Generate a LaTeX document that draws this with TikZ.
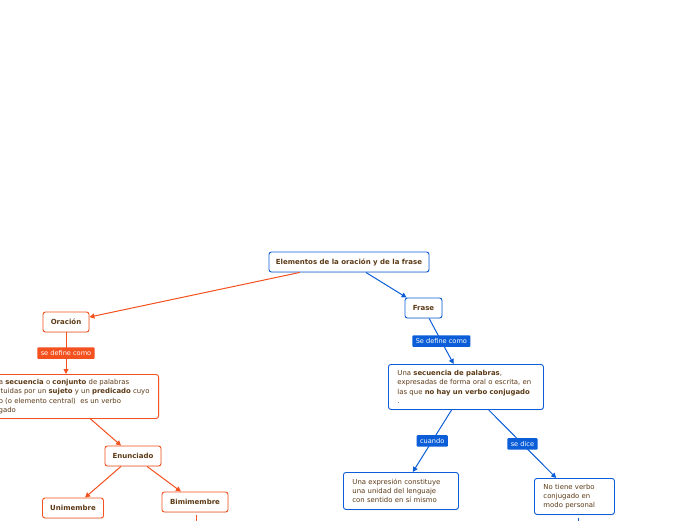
\documentclass[tikz,border=0pt]{standalone}
\usepackage{fontspec}
\setmainfont{DejaVu Sans}
\usetikzlibrary{positioning, arrows.meta, shadows}
\definecolor{mmorange}{HTML}{F4511E}
\definecolor{mmblue}{HTML}{0B5ED7}
\definecolor{mmtext}{HTML}{5C3A16}

\begin{document}
\begin{tikzpicture}[
    x=1pt, y=-1pt,
    box/.style={draw, rounded corners=2.5pt, fill=white, line width=0.9pt, text=mmtext,
        drop shadow={opacity=0.15, shadow xshift=0.6pt, shadow yshift=-0.9pt}},
    topic/.style={box, font=\fontsize{7}{8}\selectfont\bfseries, minimum height=20pt, inner xsep=4pt},
    note/.style={box, align=left, inner xsep=9pt, inner ysep=4pt, font=\fontsize{6.9}{9.3}\selectfont},
    redbox/.style={draw=mmorange}, bluebox/.style={draw=mmblue},
    tag/.style={rounded corners=1pt, text=white, font=\fontsize{6.6}{7}\selectfont, inner xsep=3.5pt, inner ysep=1.5pt, minimum height=11.5pt},
    redtag/.style={tag, fill=mmorange}, bluetag/.style={tag, fill=mmblue},
    redline/.style={draw=mmorange, line width=1pt, -{Triangle[length=5pt,width=5pt]}},
    blueline/.style={draw=mmblue, line width=1pt, -{Triangle[length=5pt,width=5pt]}}
]
\useasboundingbox (0,0) rectangle (696,520);
\fill[white] (0,0) rectangle (696,520);

% main topic
\node[topic, bluebox, minimum width=160pt] (title) at (349,262) {Elementos de la oración y de la frase};

% oracion side
\node[topic, redbox, minimum width=46pt] (oracion) at (66,322) {Oración};
\node[note, redbox, minimum height=44pt, anchor=north east] (orDef) at (159,374) {Es una \textbf{secuencia} o \textbf{conjunto} de palabras\\
    constituidas por un \textbf{sujeto} y un \textbf{predicado} cuyo\\
    núcleo (o elemento central)~ es un verbo\\
    conjugado};
\node[topic, redbox, minimum width=56pt] (enunciado) at (133,456) {Enunciado};
\node[topic, redbox, minimum width=61pt] (unimembre) at (73,508) {Unimembre};
\node[topic, redbox, minimum width=66pt] (bimimembre) at (195,502) {Bimimembre};
\coordinate (bimiNext) at (196,560);

% frase side
\node[topic, bluebox, minimum width=37pt] (frase) at (423.5,308) {Frase};
\node[note, bluebox, text width=137pt, minimum height=45pt, anchor=north west] (fDesc) at (388,364) {Una \textbf{secuencia de palabras},\\
    expresadas de forma oral o escrita, en\\
    las que \textbf{no hay un verbo conjugado}\\
    .};
\node[note, bluebox, text width=97pt, minimum height=37pt, anchor=north west] (expr) at (343,472) {Una expresión constituye\\
    una unidad del lenguaje\\
    con sentido en sí mismo};
\node[note, bluebox, text width=62pt, minimum height=36pt, anchor=north west] (noTiene) at (534,478) {No tiene verbo\\
    conjugado en\\
    modo personal};
\coordinate (noTieneNext) at (578,560);

% connectors
\draw[redline] (title) -- (oracion);
\draw[blueline] (title) -- (frase);
\draw[redline] (oracion) -- node[redtag] (tagOr) {se define como} (oracion |- orDef.north);
\draw[redline] (orDef) -- (enunciado);
\draw[redline] (enunciado) -- (unimembre);
\draw[redline] (enunciado) -- (bimimembre);
\draw[mmorange, line width=1pt] (bimiNext |- bimimembre.south) ++(0,3) -- (bimiNext);
\draw[blueline] (frase) -- node[bluetag] (tagFr) {Se define como} (fDesc);
\draw[blueline] (fDesc) -- node[bluetag] (tagCu) {cuando} (expr);
\draw[blueline] (fDesc) -- node[bluetag] (tagDi) {se dice} (noTiene);
\draw[mmblue, line width=1pt] (noTieneNext |- noTiene.south) ++(0,3) -- (noTieneNext);
\end{tikzpicture}
\end{document}
